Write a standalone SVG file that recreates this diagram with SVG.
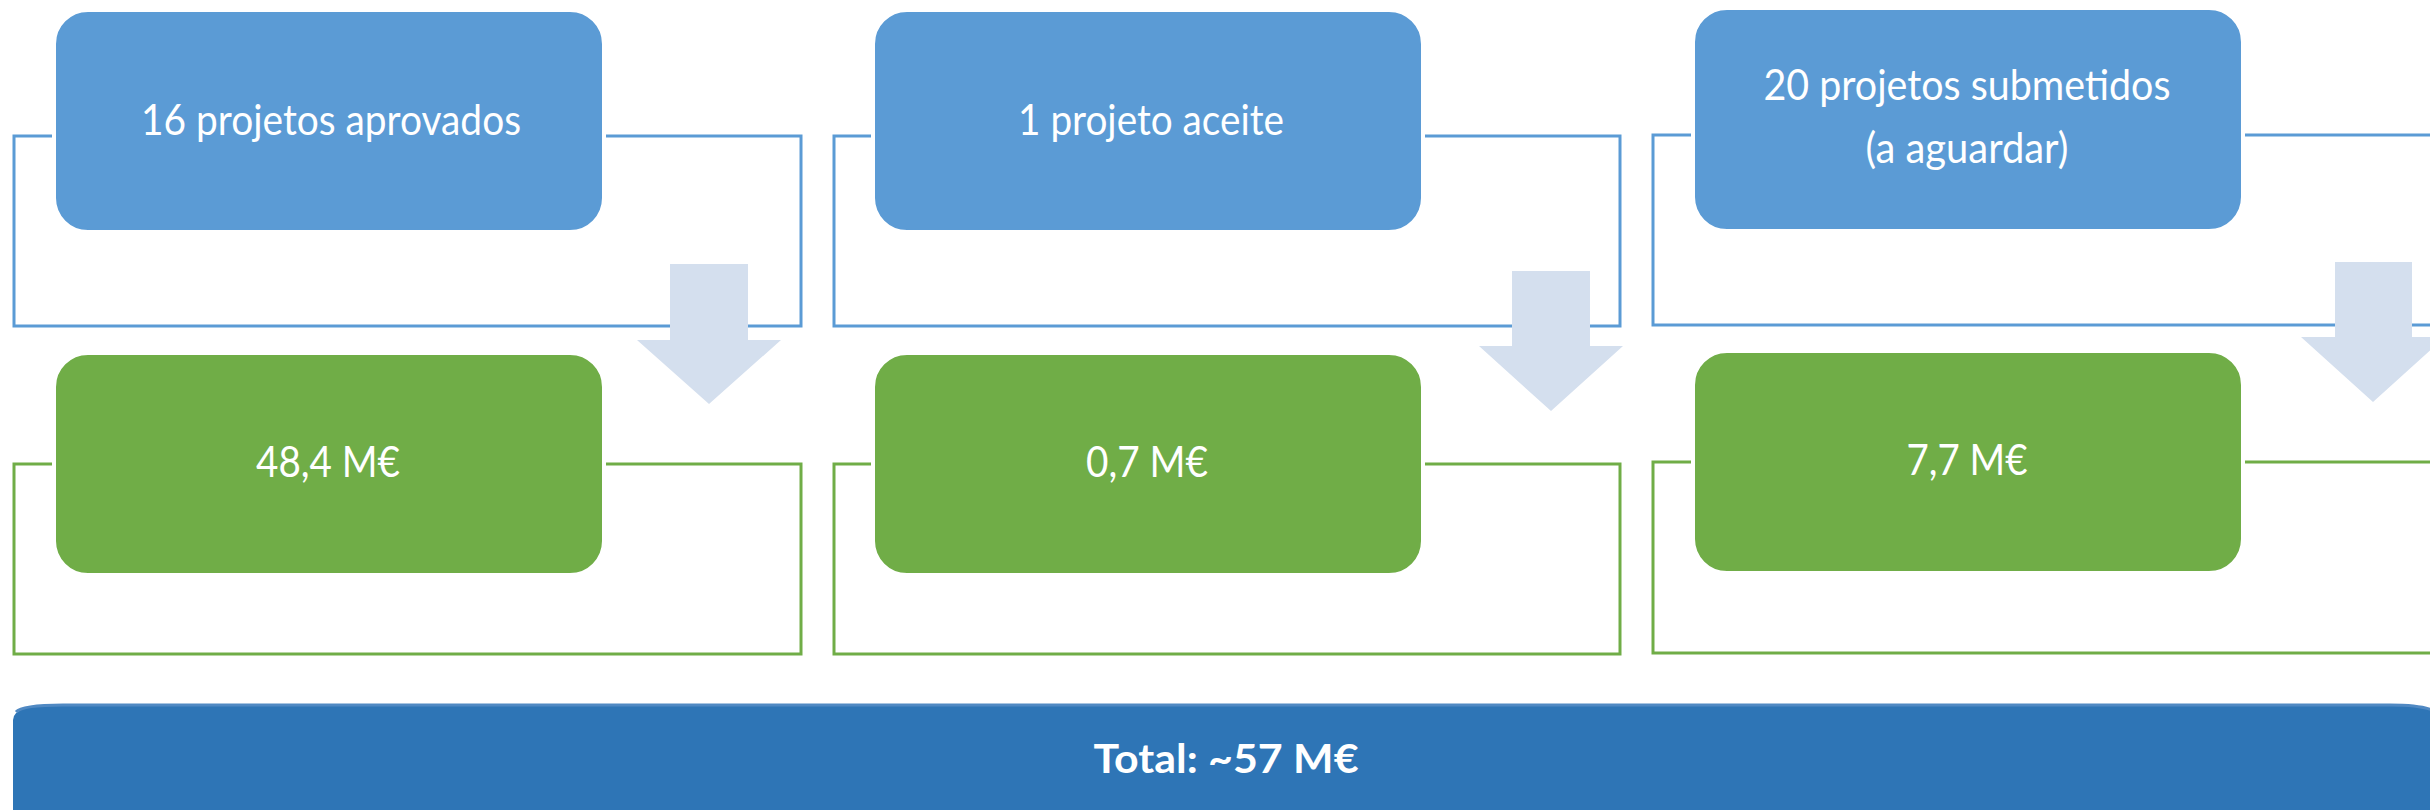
<svg xmlns="http://www.w3.org/2000/svg" width="2430" height="810" viewBox="0 0 2430 810">
<defs>
<style>
.fb{fill:none;stroke:#5b9bd5;stroke-width:3}
.fg{fill:none;stroke:#70ad47;stroke-width:3}
.bb{fill:#5b9bd5;stroke:#fff;stroke-width:4}
.bg{fill:#70ad47;stroke:#fff;stroke-width:4}
.arr{fill:#d4dfee}
.t{font-family:Lato,"Open Sans","Liberation Sans",sans-serif;font-size:42px;fill:#fff;text-anchor:middle}
.tb{font-family:Lato,"Open Sans","Liberation Sans",sans-serif;font-size:41px;font-weight:bold;fill:#fff;text-anchor:middle}
</style>
</defs>
<rect width="2430" height="810" fill="#fff"/>
<g id="frames">
<rect class="fb" x="14" y="136" width="787" height="190"/>
<rect class="fg" x="14" y="464" width="787" height="190"/>
<rect class="fb" x="834" y="136" width="786" height="190"/>
<rect class="fg" x="834" y="464" width="786" height="190"/>
<rect class="fb" x="1653" y="135" width="800" height="190"/>
<rect class="fg" x="1653" y="462" width="800" height="191"/>
</g>
<g id="connectors">
<path class="arr" d="M670,264 H748 V340 H781 L709,404 L637,340 H670 Z"/>
<path class="arr" d="M1512,271 H1590 V346 H1623 L1551,411 L1479,346 H1512 Z"/>
<path class="arr" d="M2335,262 H2412 V337 H2445 L2373,402 L2301,337 H2335 Z"/>
</g>
<g id="n1">
<rect class="bb" x="54" y="10" width="550" height="222" rx="34" ry="34"/>
<text class="t" x="331" y="135" textLength="380" lengthAdjust="spacingAndGlyphs">16 projetos aprovados</text>
</g>
<g id="n2">
<rect class="bb" x="873" y="10" width="550" height="222" rx="34" ry="34"/>
<text class="t" x="1151" y="135" textLength="266" lengthAdjust="spacingAndGlyphs">1 projeto aceite</text>
</g>
<g id="n3">
<rect class="bb" x="1693" y="8" width="550" height="223" rx="34" ry="34"/>
<text class="t" x="1967" y="100" textLength="407" lengthAdjust="spacingAndGlyphs">20 projetos submetidos</text>
<text class="t" x="1967" y="163" textLength="203" lengthAdjust="spacingAndGlyphs">(a aguardar)</text>
</g>
<g id="v1">
<rect class="bg" x="54" y="353" width="550" height="222" rx="34" ry="34"/>
<text class="t" x="328" y="477" textLength="144" lengthAdjust="spacingAndGlyphs">48,4 M€</text>
</g>
<g id="v2">
<rect class="bg" x="873" y="353" width="550" height="222" rx="34" ry="34"/>
<text class="t" x="1147" y="477" textLength="122" lengthAdjust="spacingAndGlyphs">0,7 M€</text>
</g>
<g id="v3">
<rect class="bg" x="1693" y="351" width="550" height="222" rx="34" ry="34"/>
<text class="t" x="1967" y="475" textLength="121" lengthAdjust="spacingAndGlyphs">7,7 M€</text>
</g>
<g id="total">
<path d="M13,720 Q13,704 63,704 L2390,704 Q2440,704 2440,720 L2440,812 L13,812 Z" fill="#2e75b6"/>
<path d="M16,712 Q22,705 63,705 L2390,705 Q2425,705 2436,712" fill="none" stroke="#5089c3" stroke-width="3"/>
<text class="tb" x="1226" y="773" textLength="265" lengthAdjust="spacingAndGlyphs">Total: ~57 M€</text>
</g>
</svg>
